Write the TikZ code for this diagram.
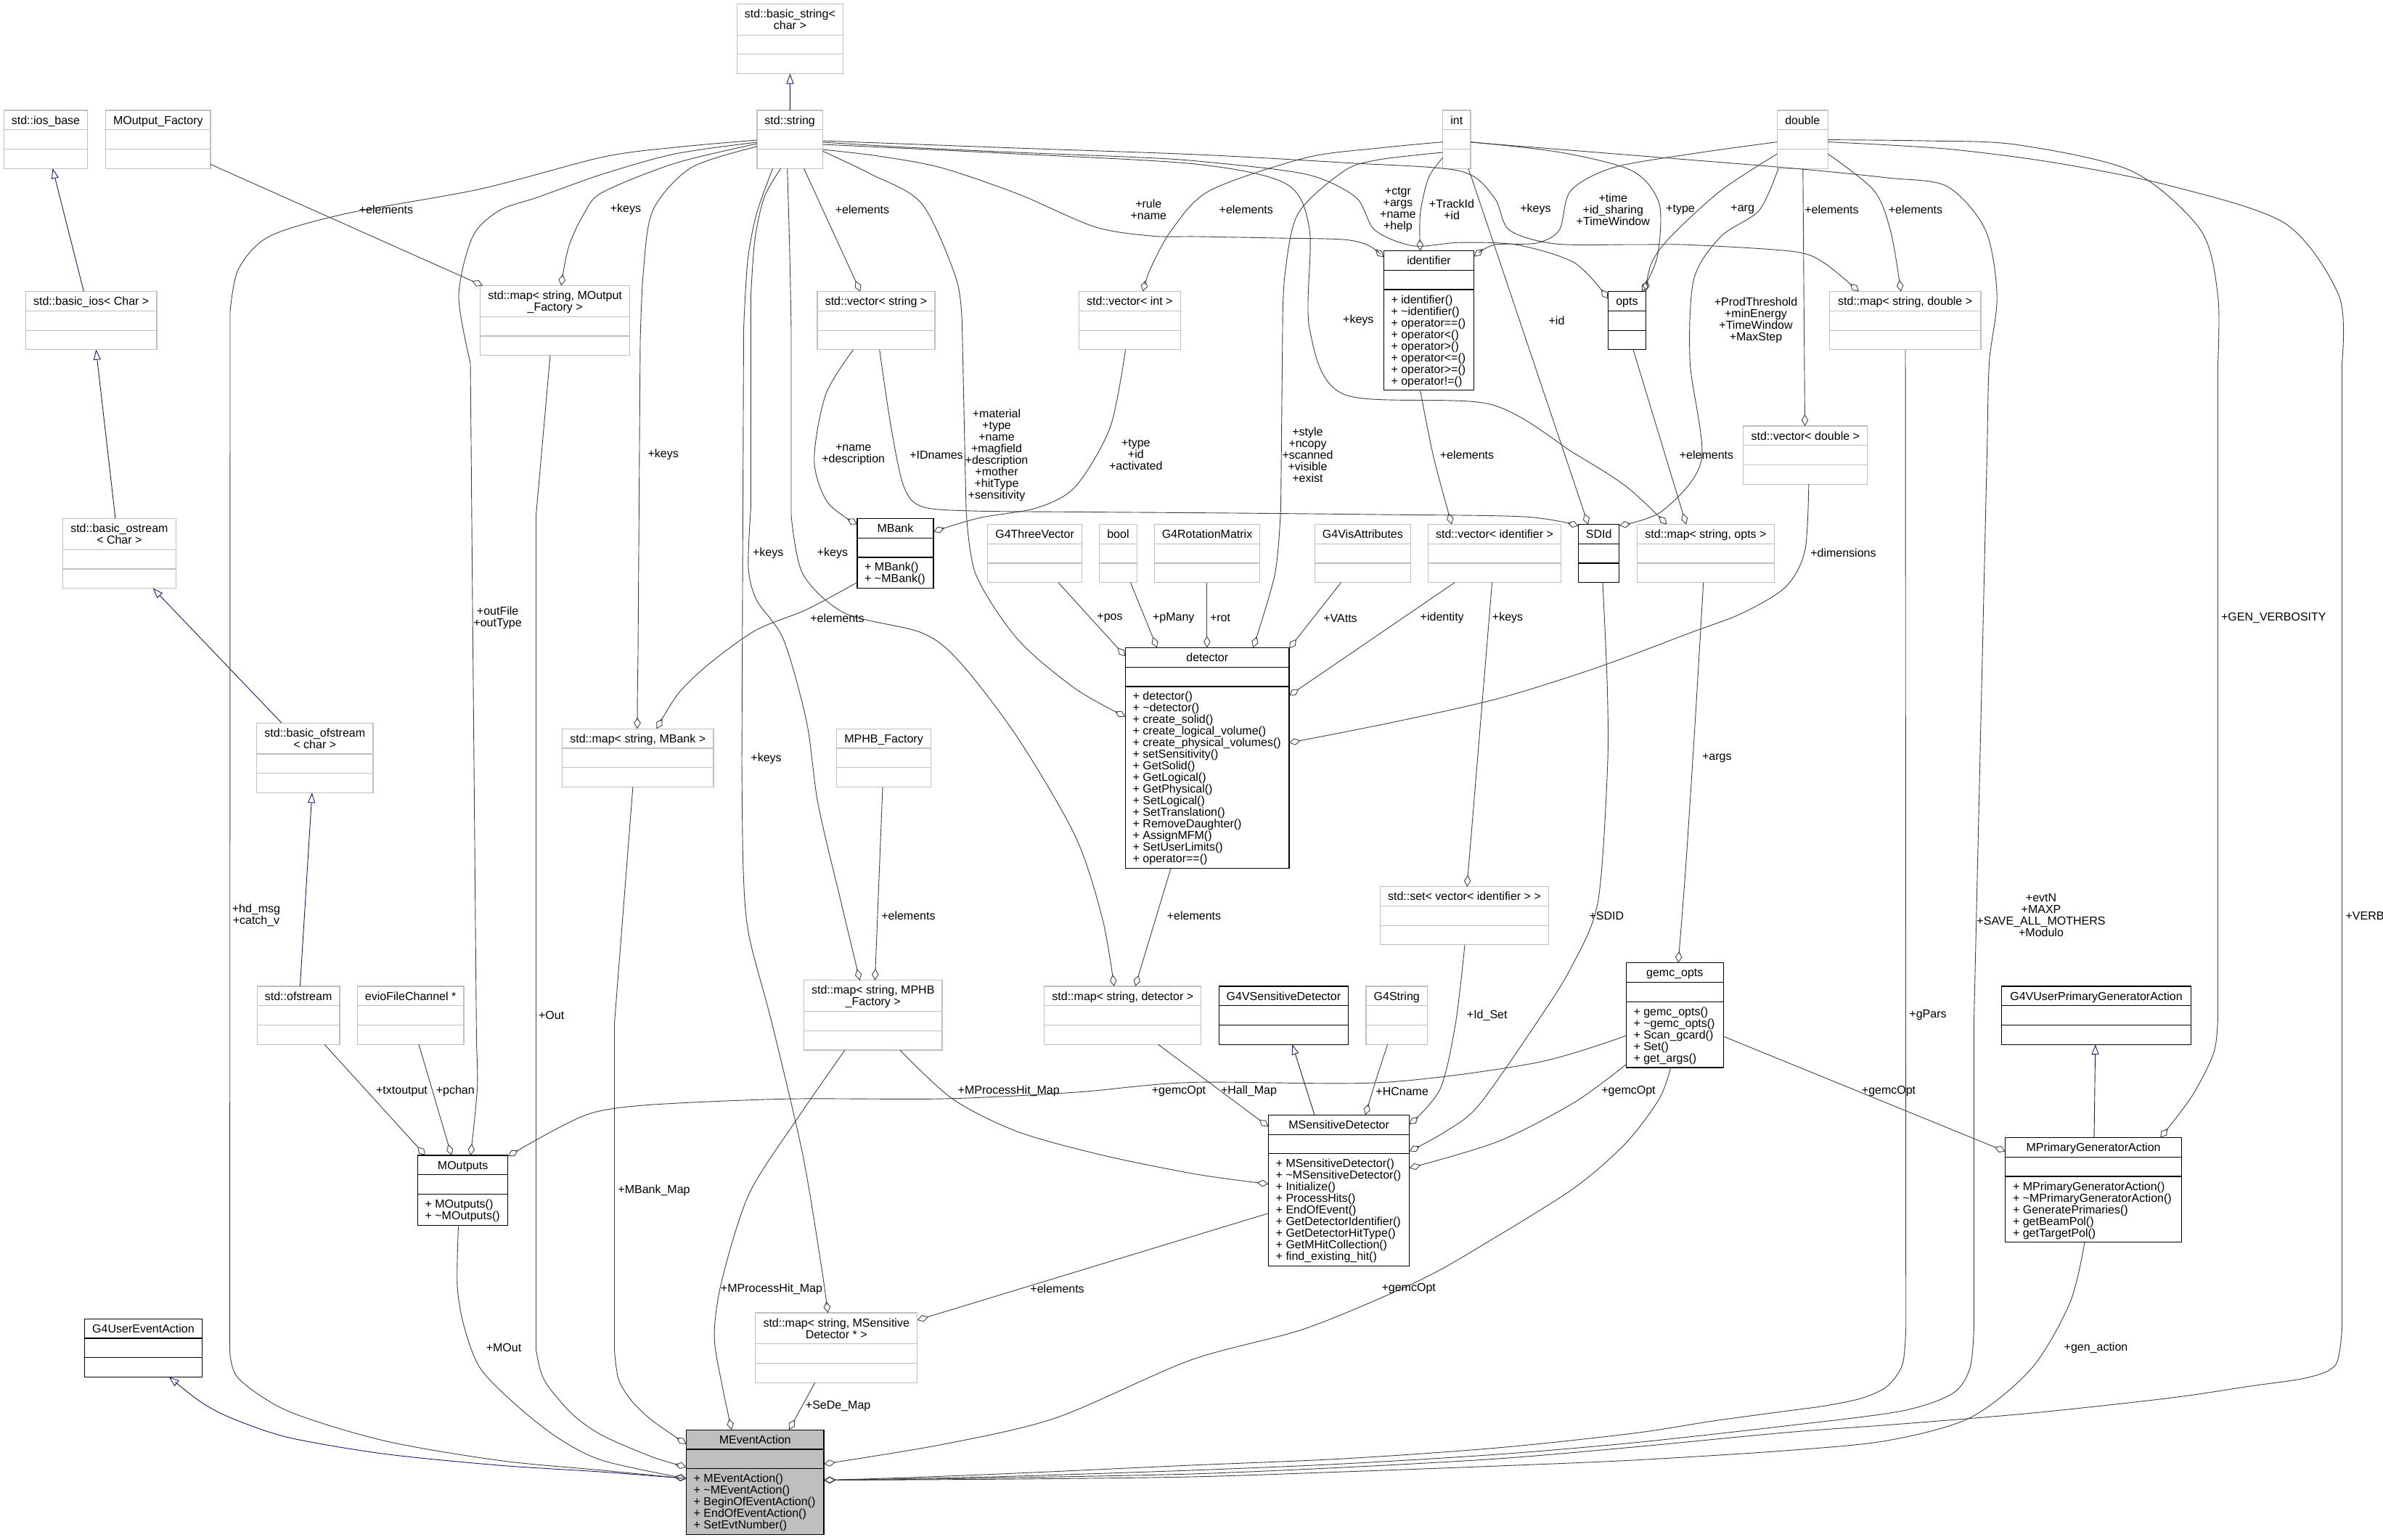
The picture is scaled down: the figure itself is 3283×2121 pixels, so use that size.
\documentclass[tikz,border=0pt]{standalone}
\usepackage{fontspec}
\setmainfont{Liberation Sans}
\usetikzlibrary{arrows.meta}
\definecolor{grey75}{RGB}{191,191,191}
\definecolor{grey25}{RGB}{64,64,64}
\definecolor{midblue}{RGB}{25,25,112}
\newcommand{\dfont}{\fontsize{16}{16}\selectfont}
\newcommand{\tld}{\textasciitilde}
\tikzset{
  boxext/.style={draw=grey75, fill=white, line width=1.2pt, inner sep=0pt, outer sep=0pt},
  boxdoc/.style={draw=black, fill=white, line width=1.2pt, inner sep=0pt, outer sep=0pt},
  boxcur/.style={draw=black, fill=grey75, line width=1.2pt, inner sep=0pt, outer sep=0pt},
  lineext/.style={draw=grey75, line width=1.2pt},
  linedoc/.style={draw=black, line width=1.2pt},
  linecur/.style={draw=black, line width=1.2pt},
  txt/.style={font=\dfont, inner sep=0pt},
  agg/.style={draw=grey25, line width=0.9pt, -{Diamond[open, length=16pt, width=9.5pt]}},
  inh/.style={draw=midblue, line width=0.9pt, -{Triangle[open, length=14pt, width=10pt]}},
  lab/.style={font=\dfont, inner sep=0pt, align=center},
}
% #1 name, #2 kind, #3 x, #4 y, #5 width, #6 header lines, #7 header, #8 method lines, #9 methods
\newcommand{\umlclass}[9]{%
  \pgfmathsetmacro{\bxhh}{10.7+16*#6}%
  \pgfmathsetmacro{\bxmh}{10.7+16*max(#8,1)}%
  \pgfmathsetmacro{\bxtot}{\bxhh+26.7+\bxmh}%
  \node[box#2, minimum width=#5pt, minimum height=\bxtot pt, anchor=north west] (#1) at (#3,#4) {};%
  \draw[line#2] (#3,#4+\bxhh) -- ++(#5,0);%
  \draw[line#2] (#3,#4+\bxhh+26.7) -- ++(#5,0);%
  \foreach \lbl [count=\nn] in {#7} {\node[txt, anchor=base] (#1-h\nn) at (#3+#5/2, #4+3+16*\nn) {\lbl};}%
  \ifnum#8>0\relax
    \foreach \lbl [count=\nn] in {#9} {\node[txt, anchor=base west] (#1-m\nn) at (#3+10, #4+\bxhh+26.7+3+16*\nn) {\lbl};}%
  \fi
}
\begin{document}
\begin{tikzpicture}[x=1pt,y=-1pt]
\useasboundingbox (0,0) rectangle (3283,2121);
\fill[white] (0,0) rectangle (3283,2121);

% ---------- classes ----------
\umlclass{bstring}{ext}{1015.3}{5.4}{146.2}{2}{{std::basic\_string<},{char >}}{0}{}
\umlclass{string}{ext}{1042.9}{152}{90.5}{1}{{std::string}}{0}{}
\umlclass{iosbase}{ext}{5.3}{152}{115.4}{1}{{std::ios\_base}}{0}{}
\umlclass{mofact}{ext}{145.6}{152}{144.4}{1}{{MOutput\_Factory}}{0}{}
\umlclass{int}{ext}{1987.8}{152}{38.1}{1}{{int}}{0}{}
\umlclass{double}{ext}{2448.4}{152}{69.8}{1}{{double}}{0}{}
\umlclass{basicios}{ext}{35.5}{401.7}{180.5}{1}{{std::basic\_ios< Char >}}{0}{}
\umlclass{mapmof}{ext}{661.7}{393.6}{205.9}{2}{{std::map< string, MOutput},{\_Factory >}}{0}{}
\umlclass{vecstr}{ext}{1126}{401.7}{162}{1}{{std::vector< string >}}{0}{}
\umlclass{vecint}{ext}{1486.5}{401.7}{139.7}{1}{{std::vector< int >}}{0}{}
\umlclass{mapdbl}{ext}{2520.3}{401.7}{208.7}{1}{{std::map< string, double >}}{0}{}
\umlclass{vecdbl}{ext}{2401.8}{587}{171}{1}{{std::vector< double >}}{0}{}
\umlclass{bostream}{ext}{86.3}{714.5}{156.2}{2}{{std::basic\_ostream},{< Char >}}{0}{}
\umlclass{gtv}{ext}{1360.5}{722.6}{130.2}{1}{{G4ThreeVector}}{0}{}
\umlclass{bool}{ext}{1514.5}{722.6}{51.9}{1}{{bool}}{0}{}
\umlclass{grm}{ext}{1590.2}{722.6}{145.6}{1}{{G4RotationMatrix}}{0}{}
\umlclass{gva}{ext}{1811.5}{722.6}{131.8}{1}{{G4VisAttributes}}{0}{}
\umlclass{vecid}{ext}{1967.7}{722.6}{182.6}{1}{{std::vector< identifier >}}{0}{}
\umlclass{mapopts}{ext}{2255.7}{722.6}{188.4}{1}{{std::map< string, opts >}}{0}{}
\umlclass{bofstream}{ext}{353.6}{996.2}{160.4}{2}{{std::basic\_ofstream},{< char >}}{0}{}
\umlclass{mapmbank}{ext}{774.5}{1004.3}{208.5}{1}{{std::map< string, MBank >}}{0}{}
\umlclass{mphbf}{ext}{1152.4}{1004.3}{130.3}{1}{{MPHB\_Factory}}{0}{}
\umlclass{setid}{ext}{1901.5}{1221.7}{231.9}{1}{{std::set< vector< identifier > >}}{0}{}
\umlclass{mapmphb}{ext}{1107.5}{1350.8}{190.5}{2}{{std::map< string, MPHB},{\_Factory >}}{0}{}
\umlclass{mapdet}{ext}{1438.8}{1359}{216}{1}{{std::map< string, detector >}}{0}{}
\umlclass{ofstream}{ext}{354.2}{1359}{113.8}{1}{{std::ofstream}}{0}{}
\umlclass{evio}{ext}{492.3}{1359}{146.7}{1}{{evioFileChannel *}}{0}{}
\umlclass{gstring}{ext}{1881.9}{1359}{84.7}{1}{{G4String}}{0}{}
\umlclass{mapmsd}{ext}{1040.8}{1809}{222.8}{2}{{std::map< string, MSensitive},{Detector * >}}{0}{}

\umlclass{identifier}{doc}{1906.3}{345.6}{124.4}{1}{{identifier}}{8}{{+ identifier()},{+ \tld identifier()},{+ operator==()},{+ operator<()},{+ operator>()},{+ operator<=()},{+ operator>=()},{+ operator!=()}}
\umlclass{opts}{doc}{2215.4}{401.7}{51.9}{1}{{opts}}{0}{}
\umlclass{sdid}{doc}{2174.7}{722.6}{56.1}{1}{{SDId}}{0}{}
\umlclass{mbank}{doc}{1181}{714.5}{104.9}{1}{{MBank}}{2}{{+ MBank()},{+ \tld MBank()}}
\umlclass{detector}{doc}{1550.5}{892.5}{225.5}{1}{{detector}}{15}{{+ detector()},{+ \tld detector()},{+ create\_solid()},{+ create\_logical\_volume()},{+ create\_physical\_volumes()},{+ setSensitivity()},{+ GetSolid()},{+ GetLogical()},{+ GetPhysical()},{+ SetLogical()},{+ SetTranslation()},{+ RemoveDaughter()},{+ AssignMFM()},{+ SetUserLimits()},{+ operator==()}}
\umlclass{gvsd}{doc}{1679.2}{1359}{178.4}{1}{{G4VSensitiveDetector}}{0}{}
\umlclass{gemcopts}{doc}{2240.3}{1326.8}{133.9}{1}{{gemc\_opts}}{5}{{+ gemc\_opts()},{+ \tld gemc\_opts()},{+ Scan\_gcard()},{+ Set()},{+ get\_args()}}
\umlclass{gvupga}{doc}{2757.5}{1359}{261}{1}{{G4VUserPrimaryGeneratorAction}}{0}{}
\umlclass{moutputs}{doc}{575.4}{1592}{124.4}{1}{{MOutputs}}{2}{{+ MOutputs()},{+ \tld MOutputs()}}
\umlclass{msd}{doc}{1747.5}{1536.4}{194.2}{1}{{MSensitiveDetector}}{9}{{+ MSensitiveDetector()},{+ \tld MSensitiveDetector()},{+ Initialize()},{+ ProcessHits()},{+ EndOfEvent()},{+ GetDetectorIdentifier()},{+ GetDetectorHitType()},{+ GetMHitCollection()},{+ find\_existing\_hit()}}
\umlclass{mpga}{doc}{2762.8}{1567.6}{242.5}{1}{{MPrimaryGeneratorAction}}{5}{{+ MPrimaryGeneratorAction()},{+ \tld MPrimaryGeneratorAction()},{+ GeneratePrimaries()},{+ getBeamPol()},{+ getTargetPol()}}
\umlclass{guea}{doc}{116.5}{1817.2}{162}{1}{{G4UserEventAction}}{0}{}
\umlclass{mea}{cur}{945.5}{1970.2}{189.5}{1}{{MEventAction}}{5}{{+ MEventAction()},{+ \tld MEventAction()},{+ BeginOfEventAction()},{+ EndOfEventAction()},{+ SetEvtNumber()}}

% ---------- inheritance ----------
\draw[inh] ([shift={(45.5,0)}]string.north west) -- ([shift={(73.1,96.1)}]bstring.north west);
\draw[inh] ([shift={(79.9,0)}]basicios.north west) -- ([shift={(67.2,80.1)}]iosbase.north west);
\draw[inh] ([shift={(72.7,0)}]bostream.north west) -- ([shift={(96.8,80.1)}]basicios.north west);
\draw[inh] ([shift={(34.4,0)}]bofstream.north west) -- ([shift={(124.4,96.1)}]bostream.north west);
\draw[inh] ([shift={(59.2,0)}]ofstream.north west) -- ([shift={(76.3,96.1)}]bofstream.north west);
\draw[inh] ([shift={(63.5,0)}]msd.north west) -- ([shift={(101.1,80.1)}]gvsd.north west);
\draw[inh] ([shift={(122.2,0)}]mpga.north west) -- ([shift={(129.2,80.1)}]gvupga.north west);
\draw[inh] plot[smooth] coordinates {([shift={(0,67.1)}]mea.north west) (830,2028.2) (688.2,2019.1) (529.4,2003.3) (397,1980.6) (317.6,1953.5) (275.3,1930.8) ([shift={(116.4,80.1)}]guea.north west)};

% ---------- aggregation: from std::string ----------
\draw[agg] plot[smooth] coordinates {([shift={(0,41)}]string.north west) (930,203) (830,216.5) (661.7,260.4) (476.4,294.4) (370.6,326) (328.2,371.4) (317,430)} -- plot[smooth] coordinates {(316.6,1860) (328.2,1899) (397,1944.4) (529.4,1985.2) (688.2,2012.4) (830,2026) ([shift={(0,67.1)}]mea.north west)};
\draw[agg] plot[smooth] coordinates {([shift={(0,46)}]string.north west) (930,225) (830,265) (804.6,294.4) (783.5,339.7) ([shift={(111.3,0)}]mapmof.north west)};
\draw[agg] plot[smooth] coordinates {([shift={(0,44)}]string.north west) (930,212) (830,240) (741,271.7) (688.2,289.9) (651.2,326) (632,407.6) (648,500)} -- plot[smooth] coordinates {(656.5,1440) (657.5,1500.6) ([shift={(73,0)}]moutputs.north west)};
\draw[agg] plot[smooth] coordinates {([shift={(0,50)}]string.north west) (952.3,231) (899.4,289.9) (886.2,375.9) (882,470)} -- plot[smooth] coordinates {(879,900) (878.2,960) ([shift={(103.5,0)}]mapmbank.north west)};
\draw[agg] ([shift={(64.6,80.1)}]string.north west) -- ([shift={(59.3,0)}]vecstr.north west);
\draw[agg] plot[smooth] coordinates {([shift={(32.8,80.1)}]string.north west) (1052.9,271.7) (1040,330) (1034.4,407.6)} -- plot[smooth] coordinates {(1034.4,700) (1031,781.5) (1042.3,826.8) (1079.4,881.2) (1111.2,994.4) (1127,1107.6) (1158.8,1243.5) ([shift={(77,0)}]mapmphb.north west)};
\draw[agg] plot[smooth] coordinates {([shift={(21.7,80.1)}]string.north west) (1042.3,294.4) (1030,360) (1024.5,452.9)} -- plot[smooth] coordinates {(1022,1050) (1024,1200) (1031.8,1288.8) (1063.5,1410) (1105.9,1591) (1132.3,1749.7) ([shift={(99.5,0)}]mapmsd.north west)};
\draw[agg] plot[smooth] coordinates {([shift={(41.8,80.1)}]string.north west) (1088,350) (1090,452.9)} -- plot[smooth] coordinates {(1090,710) (1105.9,790.6) (1164,845) (1270,872) (1322.9,912.9) (1402.3,1017) (1481.7,1152.9) (1518.8,1266) ([shift={(96,0)}]mapdet.north west)};
\draw[agg] plot[smooth] coordinates {([shift={(90.5,56.3)}]string.north west) (1200,240) (1270,280.8) (1317.6,385) (1325.6,452.9)} -- plot[smooth] coordinates {(1330.9,700) (1344,790.6) (1402.3,881.2) (1481.7,949.1) ([shift={(0,95)}]detector.north west)};
\draw[agg] plot[smooth] coordinates {([shift={(90.5,54)}]string.north west) (1210,215) (1296.4,231) (1402.3,267.2) (1508.2,312.5) (1587.6,325.2) (1650,326) (1760,328) (1850,330) (1885,338) ([shift={(0,9)}]identifier.north west)};
\draw[agg] plot[smooth] coordinates {([shift={(90.5,44)}]string.north west) (1250,203) (1400,210) (1550,216) (1650,222) (1798.8,240) (1867.6,271.7) (1894,317) (1947,338.8) (2010.6,334.2) (2090,337.4) (2169.4,362.3) ([shift={(0,10)}]opts.north west)};
\draw[agg] plot[smooth] coordinates {([shift={(90.5,42)}]string.north west) (1400,204) (1650,213) (1851.8,224.2) (2010.6,235.5) (2058.2,271.7) (2079.4,317) (2143,336) (2250,337) (2328.2,337.4) (2470,346.5) (2513,362.3) ([shift={(40.5,0)}]mapdbl.north west)};
\draw[agg] plot[smooth] coordinates {([shift={(90.5,47)}]string.north west) (1400,212) (1650,226.4) (1772.3,253.6) (1804.1,317) (1804.1,452.9) (1851.8,543.5) (2052.9,557) (2169.4,625) (2240,670) ([shift={(40.7,0)}]mapopts.north west)};

% ---------- from int ----------
\draw[agg] plot[smooth] coordinates {([shift={(0,43.6)}]int.north west) (1900,204) (1798.8,217.4) (1666.5,262.7) (1614,317) (1585,370) ([shift={(88,0)}]vecint.north west)};
\draw[agg] plot[smooth] coordinates {([shift={(0,65)}]int.north west) (1968.2,244.6) (1956.6,294.4) ([shift={(50.3,0)}]identifier.north west)};
\draw[agg] plot[smooth] coordinates {([shift={(0,58)}]int.north west) (1900,220) (1851.8,235.5) (1788.2,294.4) (1770,380) (1767,452.9)} -- plot[smooth] coordinates {(1764.5,700) (1756.5,790.6) ([shift={(175.8,0)}]detector.north west)};
\draw[agg] plot[smooth] coordinates {([shift={(38.1,43.6)}]int.north west) (2150,210) (2248.8,235.5) (2285.8,280.8) (2283.2,353.3) ([shift={(46.6,0)}]opts.north west)};
\draw[agg] ([shift={(35.2,80.1)}]int.north west) -- ([shift={(13.3,0)}]sdid.north west);
\draw[agg] plot[smooth] coordinates {([shift={(38.1,44)}]int.north west) (2250,214) (2470,231.9) (2600,245) (2682.3,256.8) (2735.3,317) (2751.2,407.6) (2740.6,498.2) (2738,600)} -- (2719.4,1410) -- plot[smooth] coordinates {(2719.4,1830) (2714,1885) (2690,1920) (2618.8,1944.4) (2460,1964.8) (2250,1988) (2063,2004) (1850,2017) (1640,2026) (1400,2034) (1250,2037.5) ([shift={(189.5,69.3)}]mea.north west)};

% ---------- from double ----------
\draw[agg] plot[smooth] coordinates {([shift={(0,43.6)}]double.north west) (2330,212) (2222.3,231) (2164,262.7) (2148.2,317) (2116.4,335) (2058.2,337.4) ([shift={(124.4,8)}]identifier.north west)};
\draw[agg] plot[smooth] coordinates {([shift={(0,60)}]double.north west) (2370.6,262.7) (2301.7,326) (2275.2,362.3) ([shift={(51.6,0)}]opts.north west)};
\draw[agg] plot[smooth] coordinates {([shift={(1.6,80.1)}]double.north west) (2423.5,289.9) (2370.6,326) (2333.5,385) (2328.2,498.2) (2344,634) (2290,704) ([shift={(56.1,1.5)}]sdid.north west)};
\draw[agg] ([shift={(35.4,80.1)}]double.north west) -- ([shift={(84.7,0)}]vecdbl.north west);
\draw[agg] plot[smooth] coordinates {([shift={(69.8,60)}]double.north west) (2581.8,262.7) (2605,320) ([shift={(98.5,0)}]mapdbl.north west)};
\draw[agg] plot[smooth] coordinates {([shift={(69.8,40.6)}]double.north west) (2650,194) (2777.6,199.3) (2936.4,235.5) (3031.7,317) (3055.5,407.6) (3055.5,500)} -- plot[smooth] coordinates {(3055.5,1400) (3050,1450) (3020,1510) ([shift={(213.4,0)}]mpga.north west)};
\draw[agg] plot[smooth] coordinates {([shift={(69.8,43.6)}]double.north west) (2680,205) (2830.6,224.2) (2989.4,255.9) (3148.2,308) (3222.3,407.6) (3226.5,500)} -- plot[smooth] coordinates {(3226.5,1830) (3218,1880) (3180,1898) (3100,1910) (2989.4,1926.3) (2800,1947) (2620,1962) (2460,1973.9) (2250,1994) (2063,2010) (1850,2022) (1640,2031) (1400,2036) (1250,2038.5) ([shift={(189.5,69.3)}]mea.north west)};

% ---------- other aggregations ----------
\draw[agg] ([shift={(104.7,80.1)}]mapdbl.north west) -- plot[smooth] coordinates {(2625.7,1830) (2621,1880) (2600,1910) (2565.9,1926.3) (2515,1937) (2460,1944.4) (2360,1958) (2250,1975) (2063,1995) (1850,2010) (1640,2019) (1400,2030) (1250,2036) ([shift={(189.5,69.3)}]mea.north west)};
\draw[agg] plot[smooth] coordinates {([shift={(109.2,144.1)}]mpga.north west) (2851.7,1795) (2798.8,1885.5) (2714.1,1953.5) (2600,1985) (2460,1998.8) (2250,2012) (2063,2020) (1850,2028) (1640,2035) (1400,2038) (1250,2039) ([shift={(189.5,69.3)}]mea.north west)};
\draw[agg] plot[smooth] coordinates {([shift={(90,80.1)}]vecdbl.north west) (2486.5,758.9) (2460,808.7) (2400,845) (2328.2,872.1) (2200,920) (2063.5,962.7) (1920,995) ([shift={(225.5,131)}]detector.north west)};
\draw[agg] plot[smooth] coordinates {([shift={(91,80.1)}]mapopts.north west) (2335,1000) (2322,1200) ([shift={(71.7,0)}]gemcopts.north west)};
\draw[agg] ([shift={(34.6,80.1)}]opts.north west) -- ([shift={(67.3,0)}]mapopts.north west);
\draw[agg] plot[smooth] coordinates {([shift={(33.3,80.1)}]sdid.north west) (2214.4,950) (2214.4,1062.3) (2201.2,1243.5) (2164,1334) (2116.4,1410) (2037,1523.2) (1990,1560) ([shift={(194.2,50)}]msd.north west)};
\draw[agg] plot[smooth] coordinates {([shift={(116.5,80.1)}]setid.north west) (2005.3,1410) (1984,1500.6) ([shift={(194.2,13)}]msd.north west)};
\draw[agg] plot[smooth] coordinates {([shift={(29.7,80.1)}]gstring.north west) (1895,1490) ([shift={(133.4,0)}]msd.north west)};
\draw[agg] ([shift={(156.7,80.1)}]mapdet.north west) -- ([shift={(0,16)}]msd.north west);
\draw[agg] plot[smooth] coordinates {([shift={(132.3,96.1)}]mapmphb.north west) (1312.3,1514.2) (1402.3,1559.5) (1520,1592) (1650,1618.3) ([shift={(0,95)}]msd.north west)};
\draw[agg] plot[smooth] coordinates {([shift={(0,139.8)}]gemcopts.north west) (2169.4,1518.7) (2063.5,1573) ([shift={(194.2,73)}]msd.north west)};
\draw[agg] ([shift={(0,135.4)}]msd.north west) -- ([shift={(222.8,10)}]mapmsd.north west);
\draw[agg] plot[smooth] coordinates {([shift={(0,100.2)}]gemcopts.north west) (2116.4,1464.3) (1904.7,1491.5) (1640,1491.5) (1481.7,1505.1) (1300,1514) (1084.7,1514.2) (900,1522) (820,1532.3) (767.6,1555) ([shift={(124.4,1)}]moutputs.north west)};
\draw[agg] ([shift={(133.9,101.2)}]gemcopts.north west) -- ([shift={(0,19)}]mpga.north west);
\draw[agg] plot[smooth] coordinates {([shift={(61.4,144.1)}]gemcopts.north west) (2285.8,1514.2) (2240,1575) (2169.4,1636.4) (2060,1705) (1957.6,1763.3) (1800,1830) (1640,1874.2) (1455.3,1953.5) (1300,1990) ([shift={(189.5,47)}]mea.north west)};
\draw[agg] plot[smooth] coordinates {([shift={(56.5,96.1)}]mapmphb.north west) (1095.3,1545.9) (1031.8,1645.5) (994.7,1763.3) (984.1,1840.3) (994.7,1908.2) ([shift={(62.5,0)}]mea.north west)};
\draw[agg] ([shift={(82,96.1)}]mapmsd.north west) -- ([shift={(141.5,0)}]mea.north west);
\draw[agg] ([shift={(97.4,80.1)}]mapmbank.north west) -- (846.5,1410) -- plot[smooth] coordinates {(846.5,1860) (852,1900) (870,1930) (899.4,1958) ([shift={(0,19.5)}]mea.north west)};
\draw[agg] ([shift={(96.3,96.1)}]mapmof.north west) -- (738.5,710) -- plot[smooth] coordinates {(738.5,1860) (745,1890) (757,1912.7) (790,1950) (830,1978) (899.4,2007.8) ([shift={(0,51.2)}]mea.north west)};
\draw[agg] plot[smooth] coordinates {([shift={(56.2,96.1)}]moutputs.north west) (630,1772.3) (640,1830) (661.7,1885.5) (710,1935) (767.6,1980.6) (830,2012.4) ([shift={(0,67.1)}]mea.north west)};
\draw[agg] ([shift={(92.8,80.1)}]ofstream.north west) -- ([shift={(10.6,0)}]moutputs.north west);
\draw[agg] ([shift={(84.7,80.1)}]evio.north west) -- ([shift={(46.6,0)}]moutputs.north west);
\draw[agg] ([shift={(144.4,74.4)}]mofact.north west) -- ([shift={(3.3,0)}]mapmof.north west);
\draw[agg] ([shift={(63.6,80.1)}]mphbf.north west) -- ([shift={(97.9,0)}]mapmphb.north west);
\draw[agg] ([shift={(62.5,304.1)}]detector.north west) -- ([shift={(125.2,0)}]mapdet.north west);
\draw[agg] ([shift={(97.5,80.1)}]gtv.north west) -- ([shift={(0,12)}]detector.north west);
\draw[agg] ([shift={(42.9,80.1)}]bool.north west) -- ([shift={(43.5,0)}]detector.north west);
\draw[agg] ([shift={(72.6,80.1)}]grm.north west) -- ([shift={(112.3,0)}]detector.north west);
\draw[agg] ([shift={(36,80.1)}]gva.north west) -- ([shift={(225.5,1)}]detector.north west);
\draw[agg] ([shift={(36.3,80.1)}]vecid.north west) -- ([shift={(225.5,66)}]detector.north west);
\draw[agg] plot[smooth] coordinates {([shift={(50.3,192.1)}]identifier.north west) (1975,630) ([shift={(32.3,0)}]vecid.north west)};
\draw[agg] ([shift={(87.9,80.1)}]vecid.north west) -- ([shift={(119.5,0)}]setid.north west);
\draw[agg] plot[smooth] coordinates {([shift={(49.7,80.1)}]vecstr.north west) (1137.6,543.5) (1121.7,634) (1140,692) ([shift={(0,8)}]mbank.north west)};
\draw[agg] plot[smooth] coordinates {([shift={(85.7,80.1)}]vecstr.north west) (1227.6,588.8) (1245,670) (1270,698) (1340,704) (1500,705.5) (1700,707) (1900,709) (2100,712) ([shift={(0,2)}]sdid.north west)};
\draw[agg] plot[smooth] coordinates {([shift={(64,80.1)}]vecint.north west) (1529.4,588.8) (1481.7,670.3) (1428.8,699.7) (1349.4,713.6) ([shift={(104.9,18)}]mbank.north west)};
\draw[agg] plot[smooth] coordinates {([shift={(0,88)}]mbank.north west) (1111,840) (1042,868) (979,913) (935,955) ([shift={(130,0)}]mapmbank.north west)};

% ---------- labels ----------
\node[lab] (l1) at (532,288.5) {+elements};
\node[lab] (l2) at (862,288.5) {+keys};
\node[lab] (l3) at (1188,288.5) {+elements};
\node[lab] (l4) at (1582.3,288.7) {+rule\\+name};
\node[lab] (l5) at (1716.8,288.5) {+elements};
\node[lab] (l6) at (1925.9,288.7) {+ctgr\\+args\\+name\\+help};
\node[lab] (l7) at (2000,288.7) {+TrackId\\+id};
\node[lab] (l8) at (2115.4,288.5) {+keys};
\node[lab] (l9) at (2222.3,288.5) {+time\\+id\_sharing\\+TimeWindow};
\node[lab] (l10) at (2315,288.5) {+type};
\node[lab] (l11) at (2400.7,288.5) {+arg};
\node[lab] (l12) at (2523.5,288.5) {+elements};
\node[lab] (l13) at (2639,288.5) {+elements};
\node[lab] (l14) at (1871.3,441.6) {+keys};
\node[lab] (l15) at (2144.5,441.6) {+id};
\node[lab] (l16) at (2419,441.3) {+ProdThreshold\\+minEnergy\\+TimeWindow\\+MaxStep};
\node[lab] (l17) at (1801.5,626.4) {+style\\+ncopy\\+scanned\\+visible\\+exist};
\node[lab] (l18) at (2021,626.8) {+elements};
\node[lab] (l19) at (2351,626.8) {+elements};
\node[lab] (l20) at (913.7,626.8) {+keys};
\node[lab] (l21) at (1175.7,626.6) {+name\\+description};
\node[lab] (l22) at (1290,626.8) {+IDnames};
\node[lab] (l23) at (1373,626.9) {+material\\+type\\+name\\+magfield\\+description\\+mother\\+hitType\\+sensitivity};
\node[lab] (l24) at (1564.8,626.8) {+type\\+id\\+activated};
\node[lab] (l25) at (685.6,851.5) {+outFile\\+outType};
\node[lab] (l26) at (1058.2,762.5) {+keys};
\node[lab] (l27) at (1147,762.5) {+keys};
\node[lab] (l28) at (2539.4,762) {+dimensions};
\node[lab] (l29) at (1153.5,851.7) {+elements};
\node[lab] (l30) at (1529,851.7) {+pos};
\node[lab] (l31) at (1616.7,851.7) {+pMany};
\node[lab] (l32) at (1681,851.7) {+rot};
\node[lab] (l33) at (1846.5,851.7) {+VAtts};
\node[lab] (l34) at (1986.7,851.7) {+identity};
\node[lab] (l35) at (2077,851.7) {+keys};
\node[lab] (l36) at (3132.3,851.7) {+GEN\_VERBOSITY};
\node[lab] (l37) at (1055.6,1045) {+keys};
\node[lab] (l38) at (2365.3,1045) {+args};
\node[lab] (l39) at (1251.4,1261.6) {+elements};
\node[lab] (l40) at (1645,1261.6) {+elements};
\node[lab] (l41) at (2213.3,1261.6) {+SDID};
\node[lab] (l42) at (2812,1261.4) {+evtN\\+MAXP\\+SAVE\_ALL\_MOTHERS\\+Modulo};
\node[lab] (l43) at (3258,1261.6) {+VERB};
\node[lab] (l44) at (353,1261.4) {+hd\_msg\\+catch\_v};
\node[lab] (l45) at (759.7,1398.8) {+Out};
\node[lab] (l46) at (2048.7,1398.8) {+Id\_Set};
\node[lab] (l47) at (2656,1398.8) {+gPars};
\node[lab] (l48) at (553.5,1503.7) {+txtoutput};
\node[lab] (l49) at (627.3,1503.7) {+pchan};
\node[lab] (l50) at (1389.7,1503.7) {+MProcessHit\_Map};
\node[lab] (l51) at (1624,1503.7) {+gemcOpt};
\node[lab] (l52) at (1720.5,1503.7) {+Hall\_Map};
\node[lab] (l53) at (1931.7,1503.7) {+HCname};
\node[lab] (l54) at (2243.5,1503.7) {+gemcOpt};
\node[lab] (l55) at (2602,1503.7) {+gemcOpt};
\node[lab] (l56) at (901,1640) {+MBank\_Map};
\node[lab] (l57) at (1063,1776) {+MProcessHit\_Map};
\node[lab] (l58) at (1456.6,1776) {+elements};
\node[lab] (l59) at (1940.7,1776) {+gemcOpt};
\node[lab] (l60) at (694,1857) {+MOut};
\node[lab] (l61) at (2887.5,1857) {+gen\_action};
\node[lab] (l62) at (1154.6,1937.6) {+SeDe\_Map};
\end{tikzpicture}
\end{document}
